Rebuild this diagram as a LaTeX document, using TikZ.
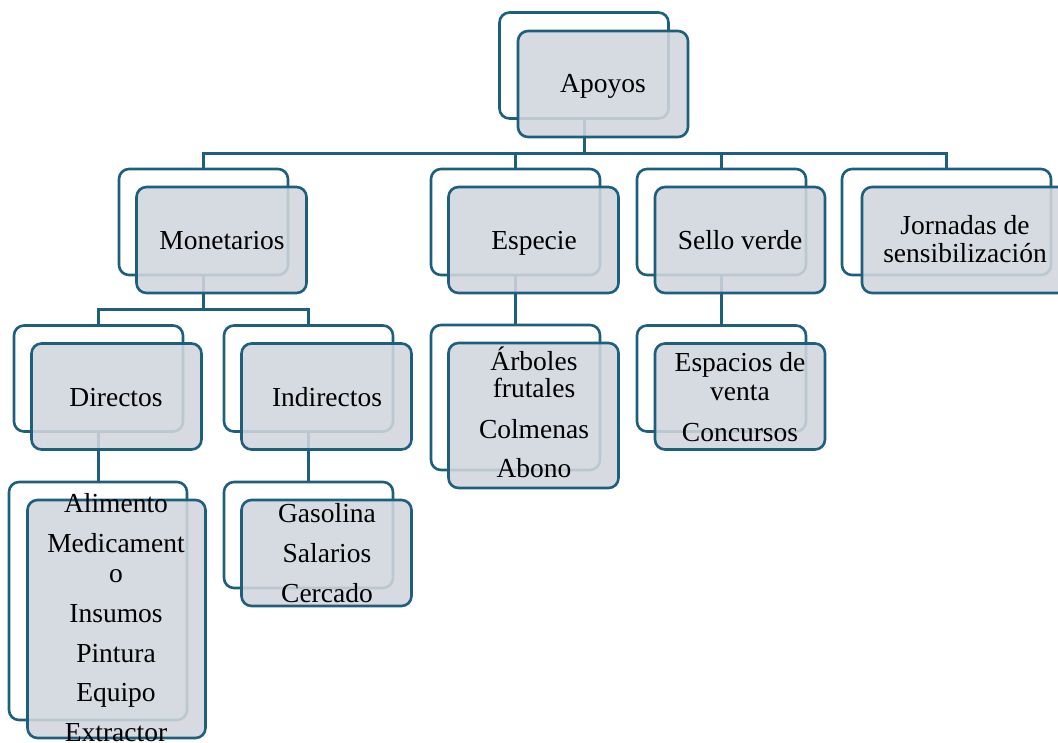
\documentclass[tikz,border=0pt]{standalone}
\usepackage{fontspec}
\setmainfont{Liberation Serif}
\definecolor{frame}{HTML}{1F5F7E}
\definecolor{boxfill}{HTML}{D1D6DD}
\begin{document}
\begin{tikzpicture}[x=1pt,y=-1pt,
  back/.style={draw=frame, line width=2.6pt, rounded corners=10pt, fill=white,
    minimum width=169pt, minimum height=106pt, inner sep=0pt},
  front/.style={draw=frame, line width=2.6pt, rounded corners=10pt, fill=boxfill,
    fill opacity=0.88, minimum width=170pt, minimum height=106pt, inner sep=0pt},
  conn/.style={draw=frame, line width=3pt},
  txt/.style={font=\fontsize{27.5}{29}\selectfont, anchor=base, inner sep=0pt}]
\useasboundingbox (0,0) rectangle (1058,742);
\clip (0,0) rectangle (1058,742);
% back frames
\node[back] (apoB) at (584,65.5) {};
\node[back] (monB) at (203.5,222) {};
\node[back] (espB) at (515.5,222) {};
\node[back] (selB) at (721.5,222) {};
\node[back, minimum width=209pt] (jorB) at (946.5,222) {};
\node[back] (dirB) at (98.5,378.5) {};
\node[back] (indB) at (308.5,378.5) {};
\node[back, minimum height=145pt] (espLB) at (515.5,397.5) {};
\node[back] (selLB) at (721.5,378.5) {};
\node[back, minimum width=178pt, minimum height=238pt] (dirLB) at (98,601) {};
\node[back] (indLB) at (308.5,535) {};
% connectors
\coordinate (busA) at (0,153);
\coordinate (busB) at (0,309);
\draw[conn] (apoB.south) -- (apoB.south |- busA);
\draw[conn] (monB.north) |- (jorB.north |- busA) -- (jorB.north);
\draw[conn] (espB.north) -- (espB.north |- busA);
\draw[conn] (selB.north) -- (selB.north |- busA);
\draw[conn] (monB.south) -- (monB.south |- busB);
\draw[conn] (dirB.north) |- (indB.north |- busB) -- (indB.north);
\draw[conn] (espB.south) -- (espLB.north);
\draw[conn] (selB.south) -- (selLB.north);
\draw[conn] (dirB.south) -- (dirB.south |- dirLB.north);
\draw[conn] (indB.south) -- (indLB.north);
% front boxes
\node[front] (apoF) at (603,84) {};
\node[front] (monF) at (221.5,240) {};
\node[front] (espF) at (533.5,240) {};
\node[front] (selF) at (740,240) {};
\node[front, minimum width=209pt] (jorF) at (966.5,240) {};
\node[front] (dirF) at (116.5,396.5) {};
\node[front] (indF) at (326.5,396.5) {};
\node[front, minimum height=145pt] (espLF) at (533.5,415.5) {};
\node[front] (selLF) at (740,396.5) {};
\node[front, minimum width=178pt, minimum height=238pt] (dirLF) at (116.5,619) {};
\node[front] (indLF) at (326.5,553) {};
% texts
\node[txt] (t1) at (603,92) {Apoyos};
\node[txt] (t2) at (222,249) {Monetarios};
\node[txt] (t3) at (534,249) {Especie};
\node[txt] (t4) at (740,249) {Sello verde};
\node[txt] (t5) at (965,234) {Jornadas de};
\node[txt] (t6) at (965,262) {sensibilización};
\node[txt] (t7) at (116,406) {Directos};
\node[txt] (t8) at (327,406) {Indirectos};
\node[txt] (t9) at (534,370) {Árboles};
\node[txt] (t10) at (534,397) {frutales};
\node[txt] (t11) at (534,438) {Colmenas};
\node[txt] (t12) at (534,477) {Abono};
\node[txt] (t13) at (740,371) {Espacios de};
\node[txt] (t14) at (740,400) {venta};
\node[txt] (t15) at (740,441) {Concursos};
\node[txt] (t16) at (116,512) {Alimento};
\node[txt] (t17) at (116,552) {Medicament};
\node[txt] (t18) at (116,582) {o};
\node[txt] (t19) at (116,622) {Insumos};
\node[txt] (t20) at (116,662) {Pintura};
\node[txt] (t21) at (116,701) {Equipo};
\node[txt] (t22) at (116,741) {Extractor};
\node[txt] (t23) at (327,522) {Gasolina};
\node[txt] (t24) at (327,562) {Salarios};
\node[txt] (t25) at (327,602) {Cercado};
\end{tikzpicture}
\end{document}
